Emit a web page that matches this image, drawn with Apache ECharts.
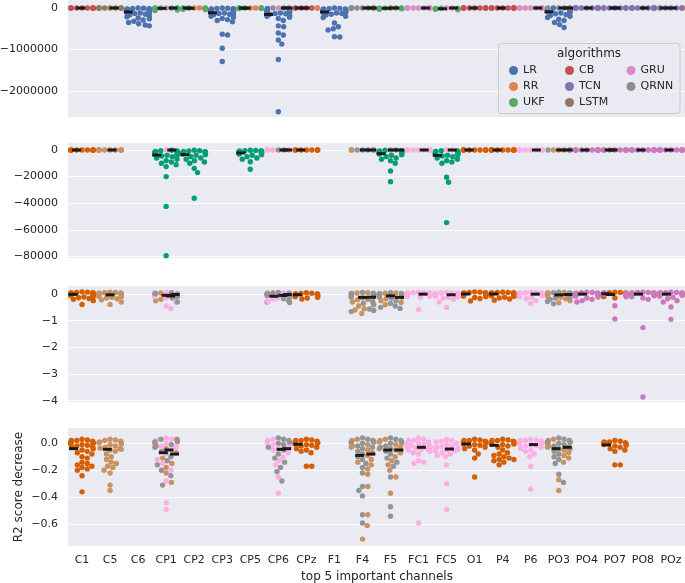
<!DOCTYPE html>
<html><head><meta charset="utf-8">
<script src="https://cdn.jsdelivr.net/npm/echarts@6/dist/echarts.min.js"></script>
<style>html,body{margin:0;padding:0;background:#fff}#c{width:685px;height:583px}</style>
</head><body><div id="c"></div>
<script>
const channels = ['C1','C5','C6','CP1','CP2','CP3','CP5','CP6','CPz','F1','F4','F5','FC1','FC5','O1','P4','P6','PO3','PO4','PO7','PO8','POz'];
const algorithms = ['LR','RR','UKF','CB','TCN','LSTM','GRU','QRNN'];
const deepColors = ['#4C72B0','#DD8452','#55A868','#C44E52','#8172B3','#937860','#DA8BC3','#8C8C8C'];
const cbColors = ['#0173B2','#DE8F05','#029E73','#D55E00','#CC78BC','#CA9161','#FBAFE4','#949494'];

const yTicks1 = [0,-1000000,-2000000];
const yTicks2 = [0,-20000,-40000,-60000,-80000];
const yTicks3 = [0,-1,-2,-3,-4];
const yTicks4 = [0,-0.2,-0.4,-0.6];

const panel1 = [
 ['C1','CB',[0,0,-2000,-1000,0,-3000,0,-1000,0,-2000]],
 ['C5','LSTM',[0,-1000,0,0,-2000,0,-1000,0,0]],
 ['C6','LR',[0,-5000,-10000,-15000,-20000,-25000,-30000,-35000,-40000,-50000,-55000,-60000,-70000,-75000,-80000,-90000,-100000,-110000,-120000,-130000,-150000,-170000,-190000,-210000,-240000,-260000,-290000,-320000,-350000,-380000,-410000,-430000]],
 ['CP1','GRU',[0]],
 ['CP1','UKF',[0,-1000,-2000,-3000,-4000,-5000,-6000,-7000,-8000,-9000,-10000,-11000,-12000,-15000,-20000,-25000,-30000,-40000,-50000,-60000]],
 ['CP2','RR',[0,0]],
 ['CP2','UKF',[-1000,-2000,-3000,-4000,-5000,-6000,-8000,-10000,-15000,-20000,-30000,-40000]],
 ['CP3','LR',[0,-5000,-10000,-15000,-20000,-25000,-30000,-40000,-50000,-60000,-70000,-80000,-90000,-100000,-110000,-120000,-130000,-150000,-160000,-180000,-200000,-220000,-250000,-280000,-300000,-330000,-630000,-650000,-970000,-1290000]],
 ['CP5','RR',[0,0,-1000]],
 ['CP5','UKF',[0,-1000,-2000,-3000,-4000,-5000,-6000,-8000,-10000,-12000]],
 ['CP6','GRU',[0]],
 ['CP6','LR',[-10000,-20000,-30000,-40000,-50000,-60000,-70000,-80000,-90000,-100000,-110000,-120000,-130000,-140000,-150000,-160000,-170000,-180000,-200000,-220000,-250000,-300000,-430000,-450000,-600000,-650000,-770000,-870000,-1240000,-2500000]],
 ['CP6','QRNN',[0,0,-1000]],
 ['CPz','CB',[0,0,-1000,0,-2000]],
 ['CPz','RR',[0,-1000]],
 ['F1','LR',[0,-10000,-15000,-20000,-25000,-30000,-35000,-40000,-45000,-50000,-60000,-70000,-80000,-90000,-100000,-110000,-120000,-130000,-150000,-170000,-200000,-230000,-360000,-450000,-500000,-530000,-690000,-700000]],
 ['F4','QRNN',[0,0,0,-1000]],
 ['F4','LSTM',[0,0,-1000,0]],
 ['F5','LSTM',[0]],
 ['F5','UKF',[-1000,-2000,-4000,-5000,-6000,-8000,-10000,-15000,-20000,-30000]],
 ['FC1','GRU',[0,0,0,0,0,-1000,0,0,-1000,0]],
 ['FC5','GRU',[0,0]],
 ['FC5','UKF',[-5000,-8000,-10000,-15000,-20000,-25000,-30000,-40000]],
 ['O1','CB',[0,0,-1000,0,0,-2000,0,0,-1000]],
 ['P4','CB',[0,0,0,-1000,0,0,-1000,0,0,0]],
 ['P6','GRU',[0,0,0,-1000,0,0,0,0]],
 ['PO3','QRNN',[0,0,-1000]],
 ['PO3','LR',[0,-5000,-10000,-15000,-20000,-25000,-30000,-40000,-50000,-60000,-70000,-80000,-90000,-100000,-120000,-140000,-160000,-180000,-200000,-230000,-270000,-300000,-350000,-400000,-470000]],
 ['PO3','LSTM',[0]],
 ['PO4','TCN',[0,0,0,0,0,0,-1000,0,0,0,0]],
 ['PO7','TCN',[0,0,0,0,0]],
 ['PO7','CB',[0,0]],
 ['PO8','TCN',[0,0,0,0,0,0,0,-1000,0,0]],
 ['POz','TCN',[0,0,0,0,0]],
 ['POz','RR',[0,0,0]]
];

const panel2 = [
 ['C1','CB',[0,0,0,-100,0,0,-200,0,0]],
 ['C5','LSTM',[0,0,0,0,-100,0,0,0,0]],
 ['CP1','GRU',[0]],
 ['CP1','UKF',[-200,-500,-800,-1000,-1200,-1500,-2000,-2200,-2500,-2800,-3000,-3300,-3500,-4000,-4500,-5000,-6000,-7000,-8000,-9000,-10000,-11000,-12500,-20000,-42400,-79500]],
 ['CP2','UKF',[-200,-500,-800,-1000,-1200,-1500,-2000,-2200,-2500,-3000,-3500,-4000,-5000,-6000,-7000,-8000,-9000,-10000,-13800,-17000,-36300]],
 ['CP5','UKF',[-200,-300,-500,-600,-800,-1000,-1200,-1500,-1800,-2000,-2200,-2500,-2800,-3000,-3500,-4000,-5000,-6000,-7000,-8800,-14500]],
 ['CP6','QRNN',[0,0]],
 ['CP6','GRU',[0,0,0,0,0,0]],
 ['CPz','CB',[0,0,0,0,0,0,0,0]],
 ['F4','QRNN',[0,0,0,0]],
 ['F4','LSTM',[0,0,0]],
 ['F5','LSTM',[0]],
 ['F5','QRNN',[0]],
 ['F5','UKF',[-200,-500,-800,-1000,-1200,-1500,-1800,-2000,-2200,-2500,-3000,-3500,-4000,-5000,-6000,-7000,-8000,-10000,-15800,-23800]],
 ['FC1','GRU',[0,0,0,0,0,0,0,0,0,0]],
 ['FC5','UKF',[-500,-800,-1000,-1200,-1500,-2000,-2500,-2800,-3000,-3500,-4000,-4500,-5000,-6000,-7000,-8000,-9000,-10000,-20500,-24300,-54600]],
 ['FC5','GRU',[0,0]],
 ['O1','CB',[0,0,0,0,0,0,0,0,0]],
 ['P4','CB',[0,0,0,0,0,0,0,0,0,0]],
 ['P6','GRU',[0,0,0,0,0,0,0,0,0]],
 ['PO3','LSTM',[0,0,0]],
 ['PO3','QRNN',[0,0,0]],
 ['PO4','TCN',[0,0,0,0,0,0,0,0,0,0]],
 ['PO7','TCN',[0,0,0,0,0,0]],
 ['PO7','CB',[0,0]],
 ['PO8','TCN',[0,0,0,0,0,0,0,0,0,0]],
 ['POz','TCN',[0,0,0,0,0,0,0,0,0,0,0]]
];

const panel3 = [
 ['C1','CB',[0.08,0.06,0.05,0.04,0.03,0.02,0.01,0,0,-0.01,-0.02,-0.03,-0.04,-0.05,-0.07,-0.09,-0.11,-0.14,-0.17,-0.2,-0.25,-0.39,0.07,0.02]],
 ['C5','LSTM',[0.07,0.05,0.04,0.02,0.01,0,-0.01,-0.02,-0.03,-0.04,-0.05,-0.06,-0.08,-0.1,-0.12,-0.15,-0.18,-0.22,-0.3,-0.39,0.03,-0.03,0.06]],
 ['CP1','GRU',[0.06,0.03,0,-0.05,-0.15,-0.3,-0.45,-0.54,-0.1,0.02]],
 ['CP1','LSTM',[0.04,0,-0.05,-0.1,-0.2,-0.25,-0.02]],
 ['CP1','QRNN',[0.05,0.02,-0.03,-0.08,-0.15,-0.3,-0.01,0.03]],
 ['CP6','QRNN',[0.06,0.04,0.01,-0.02,-0.05,-0.1,-0.18,-0.25,-0.32,0.03,0]],
 ['CP6','GRU',[0.05,0.02,-0.03,-0.08,-0.15,-0.2,-0.28,0.01]],
 ['CP6','TCN',[-0.12,-0.3,0.03,-0.05]],
 ['CPz','CB',[0.05,0.03,0.01,0,-0.02,-0.04,-0.06,-0.08,-0.1,-0.12,-0.15,-0.19,0.02,-0.01]],
 ['F4','QRNN',[0.06,0.03,0,-0.04,-0.08,-0.12,-0.2,-0.28,-0.35,-0.4,-0.56,-0.62,-0.66,0.02,-0.02]],
 ['F4','LSTM',[0.05,0.02,-0.02,-0.06,-0.1,-0.15,-0.22,-0.3,-0.45,-0.55,-0.6,-0.73,-0.01,0.04]],
 ['F5','QRNN',[0.05,0.02,-0.02,-0.06,-0.1,-0.15,-0.25,-0.35,-0.45,-0.54,-0.5,0.01]],
 ['F5','LSTM',[0.04,0.01,-0.03,-0.07,-0.12,-0.18,-0.25,-0.32,-0.4,0.03,-0.01]],
 ['FC1','GRU',[0.07,0.05,0.04,0.03,0.02,0.01,0,0,-0.01,-0.02,-0.03,-0.04,-0.05,-0.06,-0.08,-0.1,-0.12,-0.58,0.06,0.02,-0.01,0.03]],
 ['FC5','GRU',[0.06,0.04,0.03,0.01,0,-0.01,-0.02,-0.04,-0.06,-0.08,-0.1,-0.13,-0.16,-0.2,-0.3,-0.5,0.05,0.02,-0.03]],
 ['O1','CB',[0.08,0.06,0.05,0.04,0.03,0.02,0.01,0,-0.01,-0.02,-0.04,-0.06,-0.08,-0.1,-0.13,-0.17,-0.26,0.07,0.03,0]],
 ['P4','CB',[0.07,0.06,0.05,0.04,0.03,0.02,0.01,0,-0.01,-0.02,-0.03,-0.05,-0.07,-0.09,-0.12,-0.15,-0.19,-0.23,0.06,0.02,0.04]],
 ['P6','GRU',[0.07,0.05,0.04,0.03,0.02,0.01,0,-0.01,-0.02,-0.03,-0.05,-0.07,-0.1,-0.13,-0.18,-0.25,-0.35,0.06,0.03,0]],
 ['PO3','QRNN',[0.07,0.05,0.03,0.01,-0.01,-0.03,-0.06,-0.1,-0.15,-0.2,-0.28,-0.37,0.04,0.02]],
 ['PO3','LSTM',[0.06,0.04,0.02,0,-0.02,-0.05,-0.08,-0.12,-0.18,-0.25,-0.33,0.03]],
 ['PO4','TCN',[0.07,0.05,0.04,0.03,0.02,0.01,0,-0.01,-0.02,-0.04,-0.06,-0.08,-0.11,-0.15,-0.2,-0.25,-0.3,0.06,0.02,0]],
 ['PO7','CB',[0.07,0.05,0.04,0.03,0.02,0.01,0,-0.01,-0.02,-0.04,-0.06,-0.1,-0.15,0.06,0.03]],
 ['PO7','TCN',[0.05,0.02,-0.02,-0.1,-0.44,-0.94,0]],
 ['PO8','TCN',[0.07,0.06,0.05,0.04,0.03,0.02,0.01,0,-0.01,-0.02,-0.03,-0.05,-0.07,-0.1,-0.15,-0.2,-1.26,-3.86,0.06,0.04,0.02,-0.04]],
 ['POz','TCN',[0.07,0.06,0.05,0.04,0.03,0.02,0.01,0,-0.01,-0.02,-0.03,-0.05,-0.08,-0.12,-0.18,-0.25,-0.3,-0.49,-0.95,0.05,0.03,0]]
];

const panel4 = [
 ['C1','CB',[0.03,0.025,0.02,0.015,0.01,0.005,0,-0.005,-0.01,-0.015,-0.02,-0.025,-0.03,-0.04,-0.05,-0.06,-0.07,-0.08,-0.1,-0.11,-0.14,-0.15,-0.16,-0.17,-0.18,-0.19,-0.2,-0.24,-0.36,0.02,0]],
 ['C5','LSTM',[0.03,0.02,0.015,0.01,0.005,0,-0.005,-0.01,-0.02,-0.03,-0.04,-0.05,-0.06,-0.08,-0.1,-0.12,-0.14,-0.15,-0.17,-0.18,-0.2,-0.22,-0.31,-0.35,0.025,-0.035,-0.045]],
 ['CP1','GRU',[0.04,0.03,0.02,0,-0.02,-0.05,-0.08,-0.12,-0.15,-0.2,-0.28,-0.44,-0.49,0.01,-0.03]],
 ['CP1','QRNN',[0.03,0.01,-0.01,-0.03,-0.06,-0.1,-0.13,-0.16,-0.2,-0.24,-0.31,0.02]],
 ['CP1','LSTM',[0.03,0.01,-0.02,-0.04,-0.07,-0.11,-0.15,-0.18,-0.22,-0.29,0]],
 ['CP6','QRNN',[0.04,0.03,0.01,-0.01,-0.03,-0.05,-0.08,-0.11,-0.14,-0.18,-0.21,-0.28,0.02,0]],
 ['CP6','GRU',[0.03,0.02,0,-0.02,-0.04,-0.07,-0.1,-0.13,-0.16,-0.25,-0.37,0.01,-0.01,-0.05]],
 ['CPz','CB',[0.03,0.025,0.02,0.015,0.01,0.005,0,-0.005,-0.01,-0.02,-0.03,-0.04,-0.05,-0.06,-0.07,-0.17,-0.17,0.02,0,-0.015]],
 ['F4','QRNN',[0.04,0.03,0.02,0.01,0,-0.02,-0.04,-0.06,-0.08,-0.1,-0.12,-0.15,-0.18,-0.22,-0.32,-0.35,-0.39,-0.53,-0.59,0.01,-0.03]],
 ['F4','LSTM',[0.03,0.02,0.01,-0.01,-0.03,-0.05,-0.07,-0.09,-0.12,-0.14,-0.16,-0.19,-0.23,-0.32,-0.53,-0.61,-0.71,0,-0.02]],
 ['F5','QRNN',[0.04,0.03,0.02,0,-0.02,-0.04,-0.06,-0.08,-0.11,-0.14,-0.17,-0.25,-0.47,-0.54,0.01,-0.03]],
 ['F5','LSTM',[0.03,0.02,0.01,-0.01,-0.03,-0.05,-0.07,-0.1,-0.13,-0.16,-0.2,-0.25,-0.37,0,-0.04]],
 ['FC1','GRU',[0.04,0.03,0.02,0.01,0,-0.01,-0.015,-0.02,-0.025,-0.03,-0.03,-0.035,-0.04,-0.045,-0.05,-0.06,-0.07,-0.08,-0.13,-0.14,-0.15,-0.59,0.02,-0.005,-0.025]],
 ['FC5','GRU',[0.03,0.02,0.01,0,-0.01,-0.02,-0.03,-0.04,-0.045,-0.05,-0.06,-0.07,-0.08,-0.09,-0.1,-0.16,-0.3,-0.49,0.015,-0.035,-0.055,-0.025]],
 ['O1','CB',[0.03,0.025,0.02,0.015,0.01,0.005,0,-0.005,-0.01,-0.015,-0.02,-0.03,-0.04,-0.05,-0.08,-0.11,-0.25,0.02,0.01]],
 ['P4','CB',[0.03,0.025,0.02,0.02,0.01,0.01,0.005,0,0,-0.005,-0.005,-0.01,-0.02,-0.03,-0.05,-0.07,-0.08,-0.09,-0.1,-0.11,-0.12,-0.12,-0.13,-0.14,-0.16,0.015]],
 ['P6','GRU',[0.03,0.025,0.02,0.015,0.01,0.005,0,-0.005,-0.01,-0.02,-0.03,-0.04,-0.05,-0.06,-0.08,-0.1,-0.17,-0.34,0.02,0,-0.015]],
 ['PO3','QRNN',[0.04,0.03,0.02,0.01,0,-0.01,-0.02,-0.04,-0.06,-0.08,-0.1,-0.12,-0.15,-0.23,-0.29,0.015,-0.03]],
 ['PO3','LSTM',[0.03,0.02,0.01,0,-0.02,-0.03,-0.05,-0.07,-0.09,-0.11,-0.14,-0.27,-0.35,0.005,-0.04]],
 ['PO7','CB',[0.02,0.015,0.01,0.005,0,-0.005,-0.01,-0.02,-0.03,-0.04,-0.05,-0.06,-0.16,-0.16,0.01,-0.015]]
];

// ---- layout (not data) ----
const PLOT_LEFT = 68, PLOT_W = 617;
const gridBoxes = [{top:0,height:117},{top:143,height:115},{top:286,height:116},{top:428,height:118}];
const yRanges = [[-2627000,193000],[-81200,5260],[-4.05,0.30],[-0.761,0.113]];
const panels = [panel1, panel2, panel3, panel4];
const tickSets = [yTicks1, yTicks2, yTicks3, yTicks4];
const catPx = PLOT_W / channels.length;
const D = 5.4, HALF = 0.4 * catPx;
const TXT = '#262626';
const FONT = 'DejaVu Sans';

function swarmOffsets(pys, d, half) {
  const idx = pys.map((v, i) => i).sort((a, b) => pys[a] - pys[b]);
  const placed = []; const out = new Array(pys.length);
  for (const i of idx) {
    const y = pys[i];
    const near = placed.filter(p => Math.abs(p.y - y) < d);
    const cands = [0];
    for (const n of near) { const dx = Math.sqrt(d * d - (n.y - y) * (n.y - y)); cands.push(n.x + dx, n.x - dx); }
    cands.sort((a, b) => Math.abs(a) - Math.abs(b));
    let x = 0;
    for (const c of cands) {
      if (near.every(n => (n.x - c) * (n.x - c) + (n.y - y) * (n.y - y) >= d * d - 1e-6)) { x = c; break; }
    }
    placed.push({x, y});
    out[i] = Math.max(-half, Math.min(half, x));
  }
  return out;
}
function median(arr) {
  const s = arr.slice().sort((a, b) => a - b); const m = Math.floor(s.length / 2);
  return s.length % 2 ? s[m] : (s[m - 1] + s[m]) / 2;
}
function fmt(p) {
  return v => {
    if (p === 3) return (v < 0 ? '\u2212' : '') + Math.abs(v).toFixed(1);
    return v === 0 ? '0' : (v < 0 ? '\u2212' : '') + Math.abs(v);
  };
}

const grid = [], xAxis = [], yAxis = [], series = [];
panels.forEach((groups, p) => {
  grid.push({left: PLOT_LEFT, width: PLOT_W, top: gridBoxes[p].top, height: gridBoxes[p].height,
    show: true, backgroundColor: '#EAEAF2', borderWidth: 0, containLabel: false, outerBoundsMode: 'none'});
  xAxis.push({type: 'value', gridIndex: p, position: 'top', min: -0.5, max: channels.length - 0.5, show: false});
  const [ymin, ymax] = yRanges[p];
  const ticks = tickSets[p];
  yAxis.push({type: 'value', gridIndex: p, min: ymin, max: ymax,
    axisLine: {show: false}, axisTick: {show: false, customValues: ticks},
    splitLine: {show: true, lineStyle: {color: '#ffffff', width: 1.2}},
    axisLabel: {customValues: ticks, formatter: fmt(p), color: TXT, fontSize: 11, fontFamily: FONT, margin: 10}});
  const pxPerUnit = gridBoxes[p].height / (ymax - ymin);
  const palette = p === 0 ? deepColors : cbColors;
  const present = algorithms.filter(a => groups.some(g => g[1] === a));
  const sd = {}; present.forEach(a => sd[a] = []);
  const med = [];
  channels.forEach((ch, ci) => {
    const gs = groups.filter(g => g[0] === ch);
    const pts = [];
    gs.forEach(g => g[2].forEach(v => pts.push({a: g[1], v})));
    if (!pts.length) return;
    const offs = swarmOffsets(pts.map(q => -q.v * pxPerUnit), D, HALF);
    pts.forEach((q, i) => sd[q.a].push([ci + offs[i] / catPx, q.v]));
    gs.forEach(g => {
      const k = present.indexOf(g[1]), n = present.length;
      med.push([ci - 0.4 + 0.8 / n * (k + 0.5), median(g[2])]);
    });
  });
  present.forEach(a => series.push({type: 'scatter', name: p === 0 ? a : a + ' (' + (p + 1) + ')',
    xAxisIndex: p, yAxisIndex: p, data: sd[a], symbol: 'circle', symbolSize: D,
    itemStyle: {color: palette[algorithms.indexOf(a)], opacity: 1}, silent: true, z: 2,
    emphasis: {disabled: true}}));
  series.push({type: 'scatter', name: 'median' + p, xAxisIndex: p, yAxisIndex: p, data: med,
    symbol: 'rect', symbolSize: [9, 3], itemStyle: {color: '#1a1a1a', opacity: 1}, silent: true, z: 4,
    emphasis: {disabled: true}});
});
xAxis.push({type: 'category', gridIndex: 3, position: 'bottom', data: channels, boundaryGap: true,
  axisLine: {show: false}, axisTick: {show: false}, splitLine: {show: false},
  axisLabel: {color: TXT, fontSize: 11, fontFamily: FONT, margin: 9, interval: 0}});

const legTxt = {fontSize: 11, color: TXT, fontFamily: FONT, lineHeight: 13};
const legBase = {orient: 'vertical', top: 64, itemGap: 3, itemWidth: 9, itemHeight: 9, icon: 'circle',
  textStyle: legTxt, selectedMode: false, z: 20, padding: 0};

const option = {
  animation: false,
  backgroundColor: '#ffffff',
  textStyle: {fontFamily: FONT},
  grid, xAxis, yAxis, series,
  legend: [
    Object.assign({}, legBase, {left: 509, data: ['LR', 'RR', 'UKF']}),
    Object.assign({}, legBase, {left: 565, data: ['CB', 'TCN', 'LSTM']}),
    Object.assign({}, legBase, {left: 626.5, data: ['GRU', 'QRNN']})
  ],
  graphic: [
    {type: 'rect', z: 15, shape: {x: 498.5, y: 43.5, width: 181.5, height: 70, r: 3},
      style: {fill: 'rgba(234,234,242,0.8)', stroke: '#cccccc', lineWidth: 1}},
    {type: 'text', z: 16, x: 589, y: 53.5, style: {text: 'algorithms', fill: TXT, font: '12px "DejaVu Sans"',
      textAlign: 'center', textVerticalAlign: 'middle', verticalAlign: 'middle'}},
    {type: 'text', z: 16, x: 377, y: 577, style: {text: 'top 5 important channels', fill: TXT, font: '12px "DejaVu Sans"',
      textAlign: 'center', textVerticalAlign: 'middle', verticalAlign: 'middle'}},
    {type: 'text', z: 16, x: 19, y: 487, rotation: Math.PI / 2, style: {text: 'R2 score decrease', fill: TXT, font: '12px "DejaVu Sans"',
      textAlign: 'center', textVerticalAlign: 'middle', verticalAlign: 'middle'}}
  ]
};
const chart = echarts.init(document.getElementById('c'), null, {renderer: 'canvas'});
chart.setOption(option);
</script>
</body></html>
